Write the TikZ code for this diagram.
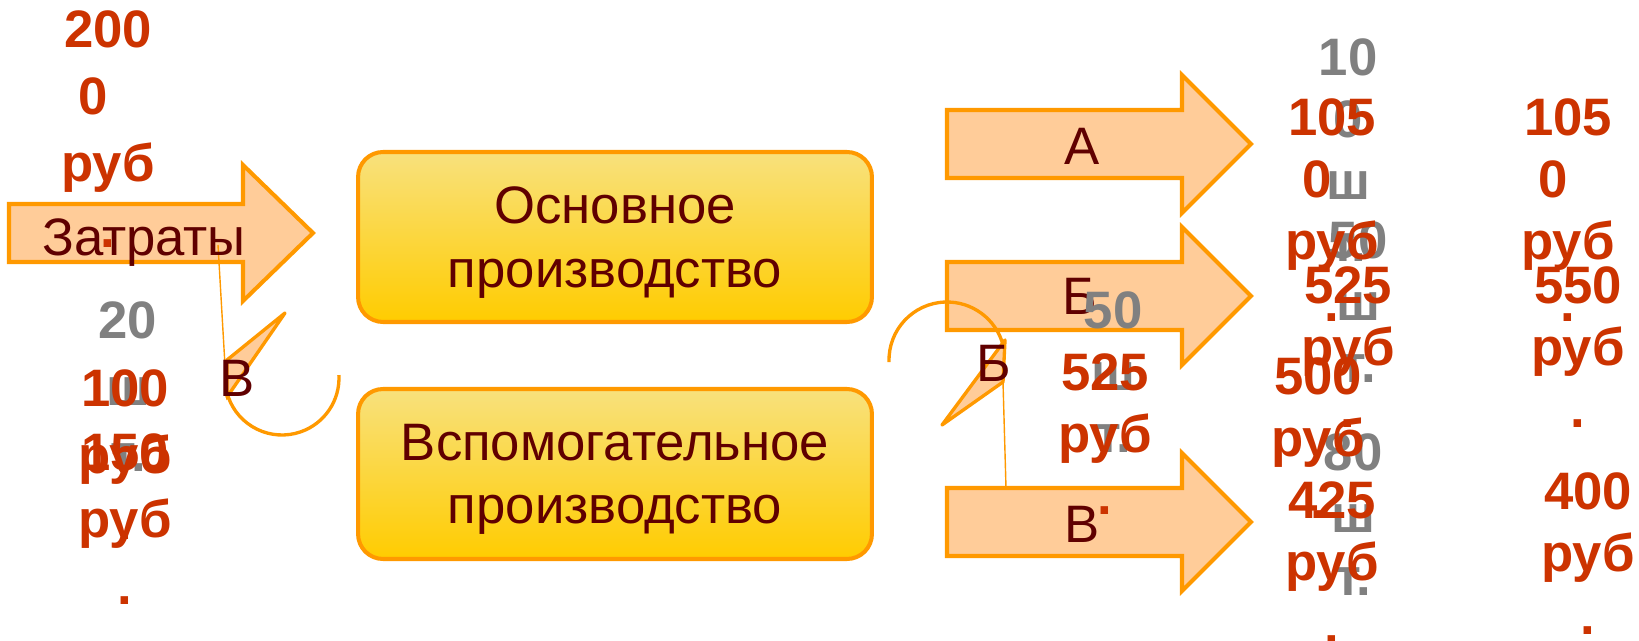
\documentclass[tikz,border=0pt]{standalone}
\usepackage{fontspec}
\setmainfont{Liberation Sans}
\definecolor{peach}{RGB}{255,204,153}
\definecolor{tangerine}{RGB}{255,153,0}
\definecolor{maroon}{RGB}{96,0,0}
\definecolor{rust}{RGB}{204,51,0}
\definecolor{boxtop}{RGB}{248,225,125}
\definecolor{boxbottom}{RGB}{255,204,0}

\begin{document}
\begin{tikzpicture}[
		x=0.02cm, y=-0.02cm,
		every node/.style={anchor=center, inner sep=0pt, font=\fontsize{30}{36}\selectfont},
		pointer/.style={draw=tangerine, line width=2.3pt, fill=peach},
		process/.style={draw=tangerine, line width=2.3pt, rounded corners=0.5cm, top color=boxtop, bottom color=boxbottom, minimum width=10.28cm, minimum height=3.4cm, align=center, text depth=-14pt, text=maroon},
		arrowlabel/.style={anchor=base, text=maroon},
		arcline/.style={draw=tangerine, line width=1.9pt},
		headtri/.style={draw=tangerine, line width=1.9pt, fill=peach, line join=round},
		feed/.style={draw=tangerine, line width=0.8pt},
		sum/.style={anchor=base, align=center, text=rust, font=\fontsize{30}{35.3}\selectfont\bfseries},
		qty/.style={anchor=base, align=center, text=gray, font=\fontsize{30}{35.3}\selectfont\bfseries},
		wide/.style={font=\fontsize{30}{38}\selectfont\bfseries}
		]
		
		\useasboundingbox (0,0) rectangle (1639,641);
		
		\draw[pointer] (9,204) -- ++(234,0) -- ++(0,-39) -- ++(70,68) -- ++(-70,68) -- ++(0,-39) -- ++(-234,0) -- cycle;
		\foreach \y in {144,296,522}
		\draw[pointer] (947,\y-34) -- ++(235,0) -- ++(0,-35) -- ++(69,69) -- ++(-69,69) -- ++(0,-35) -- ++(-235,0) -- cycle;
		
		\node[process] (main) at (615,237) {Основное\\производство};
		\node[process] (aux) at (615,474) {Вспомогательное\\производство};
		
		\coordinate (lc) at (282,378);
		\draw[arcline] (lc) ++(199:1.14cm) arc[start angle=199, end angle=363, radius=1.14cm];
		\draw[headtri] (227,360) -- (285,313) -- (227,397) -- cycle;
		\draw[feed] (218,245) -- (227,400);
		
		\coordinate (mc) at (947,360);
		\draw[arcline] (mc) ++(182:1.16cm) arc[start angle=182, end angle=14.5, radius=1.16cm];
		\draw[headtri] (1005,340) -- (942,425) -- (1003,382) -- cycle;
		\draw[feed] (1003,382) -- (1006,488);
		
		\node[arrowlabel] (costs) at (144,256) {Затраты};
		\node[arrowlabel] (outa) at (1082,165) {А};
		\node[arrowlabel] (outb) at (1080,315) {Б};
		\node[arrowlabel] (outc) at (1082,542) {В};
		\node[arrowlabel] (backc) at (237,397) {В};
		\node[arrowlabel] (backb) at (994,382) {Б};
		
		% base = baseline of the last line
		\node[qty, wide] (costqty) at (128,472) {20\\ш\\т.};
		\node[qty] (bqty) at (1113,453) {50\\ш\\т.};
		\node[qty] (aqty) at (1348,262) {10\\0\\ш\\т.};
		\node[qty] (bqtyout) at (1358,383) {50\\ш\\т.};
		\node[qty] (cqty) at (1353,595) {80\\ш\\т.};
		
		\node[sum, wide] (costsum) at (108,248) {200\\0\hphantom{0}\\руб\\.};
		\node[sum, wide] (backsum) at (125,540) {100\\руб\\.};
		\node[sum, wide] (auxsum) at (125,604) {150\\руб\\.};
		\node[sum] (bsum) at (1105,515) {525\\руб\\.};
		\node[sum] (acost) at (1332,322) {105\\0\hphantom{0}\\руб\\.};
		\node[sum] (bcost) at (1348,428) {525\\руб\\.};
		\node[sum] (ccostb) at (1318,519) {500\\руб\\.};
		\node[sum] (ccost) at (1332,643) {425\\руб\\.};
		\node[sum] (atotal) at (1568,322) {105\\0\hphantom{0}\\руб\\.};
		\node[sum] (btotal) at (1578,428) {550\\руб\\.};
		\node[sum] (ctotal) at (1588,634) {400\\руб\\.};
		
\end{tikzpicture}
\end{document}
